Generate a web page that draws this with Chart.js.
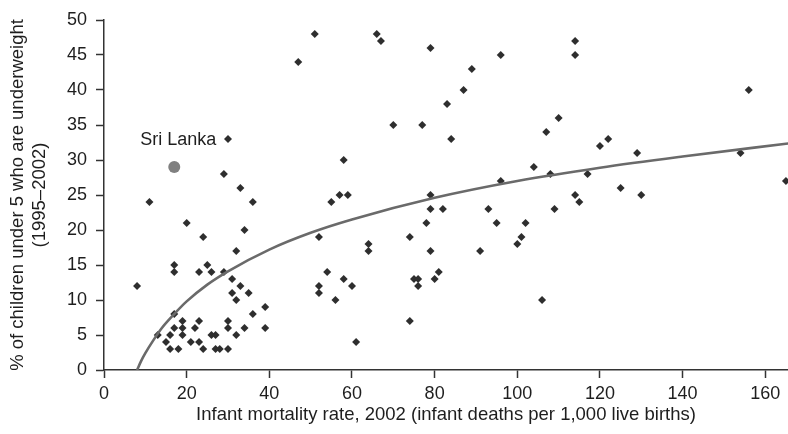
<!DOCTYPE html>
<html>
<head>
    <title>Underweight children vs infant mortality</title>
    <style>
        body {
            margin: 0;
            background: #fff;
            font-family: "Liberation Sans", Arial, sans-serif;
        }
        .chart {
            position: relative;
            width: 788px;
            height: 434px;
        }
    </style>
    <script src="https://cdn.jsdelivr.net/npm/chart.js"></script>
</head>
<body>
    <div class="chart">
        <canvas id="imrChart"></canvas>
    </div>

    <script>
        // Countries: infant mortality 2002 (per 1,000) and % underweight under-5s
        const infantMortality = [8, 11, 13, 15, 16, 16, 17, 17, 17, 17, 18, 19, 19, 19, 20, 21, 22, 23, 23, 23,
            24, 24, 25, 26, 26, 27, 27, 28, 29, 29, 30, 30, 30, 30, 31, 31, 32, 32, 32, 33, 33, 34, 34, 35, 36, 36,
            39, 39, 47, 51, 52, 52, 52, 54, 55, 56, 57, 58, 58, 59, 60, 61, 64, 64, 66, 67, 70, 74, 74, 75, 76, 76,
            77, 78, 79, 79, 79, 79, 80, 81, 82, 83, 84, 87, 89, 91, 93, 95, 96, 96, 100, 101, 102, 104, 106, 107,
            108, 109, 110, 114, 114, 114, 115, 117, 120, 122, 125, 129, 130, 154, 156, 165];
        const underweight = [12, 24, 5, 4, 5, 3, 15, 14, 8, 6, 3, 7, 6, 5, 21, 4, 6, 14, 7, 4,
            19, 3, 15, 14, 5, 5, 3, 3, 28, 14, 33, 7, 6, 3, 13, 11, 17, 10, 5, 26, 12, 20, 6, 11, 24, 8,
            9, 6, 44, 48, 19, 12, 11, 14, 24, 10, 25, 30, 13, 25, 12, 4, 18, 17, 48, 47, 35, 19, 7, 13, 13, 12,
            35, 21, 46, 25, 23, 17, 13, 14, 23, 38, 33, 40, 43, 17, 23, 21, 45, 27, 18, 19, 21, 29, 10, 34,
            28, 23, 36, 47, 45, 25, 24, 28, 32, 33, 26, 31, 25, 31, 40, 27];

        // Highlighted country
        const sriLankaName = 'Sri Lanka';
        const sriLankaMortality = [17];
        const sriLankaUnderweight = [29];

        // Logarithmic trend curve
        const trendMortality = [8, 9, 10, 12, 14, 17, 20, 25, 30, 40, 50, 60, 80, 100, 120, 140, 166];
        const trendUnderweight = [0, 1.3, 2.4, 4.3, 6.0, 8.0, 9.8, 12.2, 14.1, 17.2, 19.6, 21.5, 24.6, 27.0, 28.9, 30.5, 32.4];

        const xTitle = 'Infant mortality rate, 2002 (infant deaths per 1,000 live births)';
        const yTitle = ['% of children under 5 who are underweight', '(1995\u20132002)'];

        const toPoints = (xs, ys) => xs.map((v, i) => ({ x: v, y: ys[i] }));

        const axisColor = '#333';
        const textColor = '#1e1e1e';
        Chart.defaults.font.family = '"Liberation Sans", Arial, sans-serif';
        Chart.defaults.font.size = 18;
        Chart.defaults.color = textColor;

        // Writes the country name above its marker
        const countryLabel = {
            id: 'countryLabel',
            afterDatasetsDraw(chart) {
                const { ctx, scales: { x, y } } = chart;
                const px = x.getPixelForValue(sriLankaMortality[0]);
                const py = y.getPixelForValue(sriLankaUnderweight[0]);
                ctx.save();
                ctx.font = '18px "Liberation Sans", Arial, sans-serif';
                ctx.fillStyle = textColor;
                ctx.textAlign = 'center';
                ctx.textBaseline = 'middle';
                ctx.fillText(sriLankaName, px + 4, py - 27);
                ctx.restore();
            }
        };

        const ctx = document.getElementById('imrChart').getContext('2d');
        new Chart(ctx, {
            type: 'scatter',
            data: {
                datasets: [
                    {
                        type: 'line',
                        label: 'Trend',
                        data: toPoints(trendMortality, trendUnderweight),
                        borderColor: '#6a6a6a',
                        borderWidth: 2.6,
                        pointRadius: 0,
                        fill: false,
                        cubicInterpolationMode: 'monotone',
                        order: 0
                    },
                    {
                        label: 'Countries',
                        data: toPoints(infantMortality, underweight),
                        pointStyle: 'rectRot',
                        pointRadius: 4,
                        borderWidth: 0,
                        backgroundColor: '#2e2e2e',
                        order: 1
                    },
                    {
                        label: sriLankaName,
                        data: toPoints(sriLankaMortality, sriLankaUnderweight),
                        pointStyle: 'circle',
                        pointRadius: 6,
                        borderWidth: 0,
                        backgroundColor: '#808080',
                        order: 2
                    }
                ]
            },
            options: {
                responsive: true,
                maintainAspectRatio: false,
                animation: false,
                layout: {
                    autoPadding: false,
                    padding: { top: 20, right: 0, bottom: 0, left: 0 }
                },
                plugins: {
                    legend: { display: false },
                    tooltip: { enabled: false }
                },
                scales: {
                    x: {
                        type: 'linear',
                        min: 0,
                        max: 165.5,
                        afterFit: scale => {
                            scale.height = 64;
                            scale.paddingLeft = 0;
                            scale.paddingRight = 0;
                        },
                        ticks: { stepSize: 20, includeBounds: false, padding: 5, color: textColor },
                        grid: { drawOnChartArea: false, color: axisColor, tickLength: 8, tickWidth: 1.5 },
                        border: { color: axisColor, width: 1.5 },
                        title: {
                            display: true,
                            text: xTitle,
                            color: textColor,
                            font: { size: 18.5 },
                            padding: { top: 0, bottom: 8 }
                        }
                    },
                    y: {
                        min: 0,
                        max: 50,
                        afterFit: scale => { scale.width = 104; },
                        ticks: { stepSize: 5, includeBounds: false, padding: 9, color: textColor },
                        grid: { drawOnChartArea: false, color: axisColor, tickLength: 8, tickWidth: 1.5 },
                        border: { color: axisColor, width: 1.5 },
                        title: {
                            display: true,
                            text: yTitle,
                            color: textColor,
                            font: { size: 18.5 },
                            padding: { top: 7, bottom: 0 }
                        }
                    }
                }
            },
            plugins: [countryLabel]
        });
    </script>
</body>
</html>
